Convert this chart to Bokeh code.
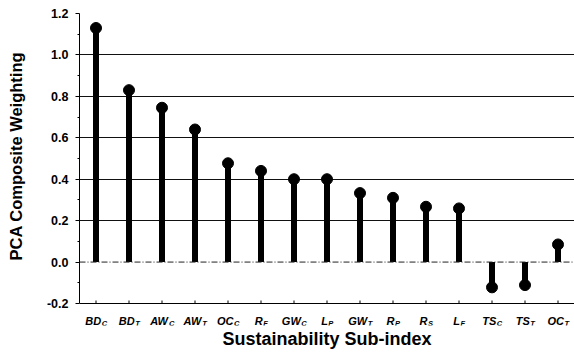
from bokeh.plotting import figure
from bokeh.models import (FactorRange, Range1d, FixedTicker, Span, Title,
                          ColumnDataSource, NumeralTickFormatter)
from bokeh.core.properties import value
from bokeh.embed import file_html
from bokeh.resources import INLINE

# ---- data ----
main_labels = ["BD", "BD", "AW", "AW", "OC", "R", "GW", "L", "GW", "R", "R", "L", "TS", "TS", "OC"]
sub_labels = ["C", "T", "C", "T", "C", "F", "C", "P", "T", "P", "S", "F", "C", "T", "T"]
weights = [1.13, 0.83, 0.745, 0.64, 0.477, 0.44, 0.40, 0.40, 0.333, 0.31, 0.267, 0.259, -0.122, -0.111, 0.085]
y_ticks = [-0.2, 0.0, 0.2, 0.4, 0.6, 0.8, 1.0, 1.2]
y_minor = [-0.1, 0.1, 0.3, 0.5, 0.7, 0.9, 1.1]
grid_ticks = [0.2, 0.4, 0.6, 0.8, 1.0, 1.2]
y_lo, y_hi = -0.2, 1.2
y_title = "PCA Composite Weighting"
x_title = "Sustainability Sub-index"

factors = [m + "_" + s for m, s in zip(main_labels, sub_labels)]
FONT = "Liberation Sans"

# layout (pixels)
TOP, AXIS_Y, FRAME_BOTTOM, H, W_ = 13, 303, 325, 357, 574
scale = (AXIS_Y - TOP) / (y_hi - y_lo)           # px per unit
pad = (FRAME_BOTTOM - AXIS_Y) / scale             # room for category labels

p = figure(width=W_, height=H, output_backend="svg", toolbar_location=None,
           x_range=FactorRange(*factors, range_padding=0),
           y_range=Range1d(y_lo - pad, y_hi),
           min_border_left=79, min_border_right=0, min_border_top=TOP,
           min_border_bottom=H - FRAME_BOTTOM)
p.outline_line_color = None
p.background_fill_color = "white"

# grid
p.xgrid.visible = False
p.ygrid.ticker = FixedTicker(ticks=grid_ticks)
p.ygrid.grid_line_color = "#111111"
p.ygrid.grid_line_width = 1.2
p.add_layout(Span(location=0, dimension="width", line_color="#222222",
                  line_width=1, line_dash="6 2 1 2"))
# bottom axis line at -0.2
p.add_layout(Span(location=y_lo, dimension="width", line_color="black", line_width=1.2))

# stems and dots
src = ColumnDataSource(dict(x=factors, y=weights, z=[0] * len(weights)))
p.segment(x0="x", y0="z", x1="x", y1="y", source=src, line_width=6,
          line_color="black", line_cap="butt")
p.scatter(x="x", y="y", source=src, size=11, fill_color="black", line_color="black")

# x tick marks (3 px, pointing up from the axis line)
tsrc = ColumnDataSource(dict(x=factors, y0=[y_lo] * len(factors),
                             y1=[y_lo + 3 / scale] * len(factors)))
p.segment(x0="x", y0="y0", x1="x", y1="y1", source=tsrc, line_width=1, line_color="black")

# y axis
p.yaxis.bounds = (y_lo, y_hi)
p.yaxis.ticker = FixedTicker(ticks=y_ticks, minor_ticks=y_minor)
p.yaxis.formatter = NumeralTickFormatter(format="0.0")
p.yaxis.major_tick_out = 4
p.yaxis.major_tick_in = 0
p.yaxis.minor_tick_out = 2
p.yaxis.minor_tick_in = 0
p.yaxis.major_label_standoff = 7
p.yaxis.major_label_text_font = FONT
p.yaxis.major_label_text_font_style = "bold"
p.yaxis.major_label_text_font_size = "12.5px"
p.yaxis.major_label_text_color = "black"
p.yaxis.axis_line_color = "black"

# y title: trailing empty line pushes the text away from the axis
p.add_layout(Title(text=y_title + "\n", align="left", offset=FRAME_BOTTOM - 260,
                   text_font=FONT, text_font_style="bold", text_font_size="16.5px",
                   text_line_height=0.9, text_color="black", standoff=4), "left")

# x axis: only its title is shown (the line at -0.2 and ticks are drawn above)
p.xaxis.axis_line_color = None
p.xaxis.major_tick_in = 0
p.xaxis.major_tick_out = 0
p.xaxis.major_label_text_color = None
p.xaxis.major_label_text_font_size = "1px"
p.xaxis.major_label_standoff = 0
p.xaxis.axis_label = x_title
p.xaxis.axis_label_text_font = FONT
p.xaxis.axis_label_text_font_style = "bold"
p.xaxis.axis_label_text_font_size = "18px"
p.xaxis.axis_label_text_color = "black"
p.xaxis.axis_label_standoff = 3

# category labels with subscripts
W = {"B": 722, "D": 722, "A": 722, "W": 944, "O": 778, "C": 722, "R": 722,
     "G": 778, "L": 611, "T": 611, "S": 667, "P": 667, "F": 611}
MS, SS = 11, 7.5
offs_main, offs_sub = [], []
for m, s in zip(main_labels, sub_labels):
    w1 = sum(W[c] for c in m) * MS / 1000
    w2 = sum(W[c] for c in s) * SS / 1000
    left = -(w1 + w2) / 2
    offs_main.append(left)
    offs_sub.append(left + w1 + 0.5)
lsrc = ColumnDataSource(dict(x=factors, y=[y_lo] * len(factors), m=main_labels, s=sub_labels,
                             om=offs_main, os=offs_sub))
p.text(x="x", y="y", text="m", source=lsrc, x_offset="om", y_offset=17,
       text_font=value(FONT), text_font_style="bold italic", text_font_size=f"{MS}px",
       text_align="left", text_baseline="alphabetic", text_color="black")
p.text(x="x", y="y", text="s", source=lsrc, x_offset="os", y_offset=19.5,
       text_font=value(FONT), text_font_style="bold italic", text_font_size=f"{SS}px",
       text_align="left", text_baseline="alphabetic", text_color="black")

open("out.html", "w").write(file_html(p, INLINE))
